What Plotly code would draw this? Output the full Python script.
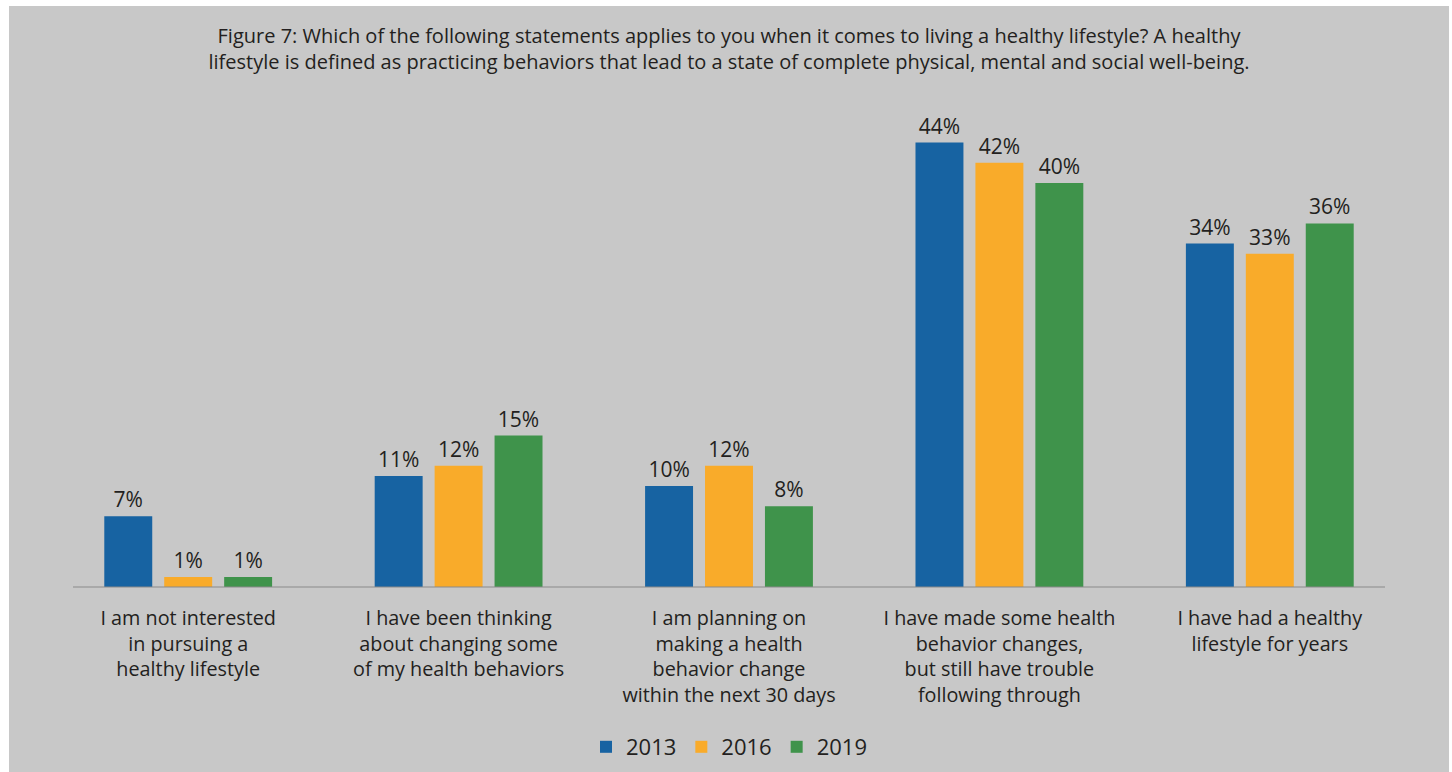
import plotly.graph_objects as go

# Survey responses (% of respondents) by year
categories = [
    "I am not interested<br>in pursuing a<br>healthy lifestyle",
    "I have been thinking<br>about changing some<br>of my health behaviors",
    "I am planning on<br>making a health<br>behavior change<br>within the next 30 days",
    "I have made some health<br>behavior changes,<br>but still have trouble<br>following through",
    "I have had a healthy<br>lifestyle for years",
]
years = ["2013", "2016", "2019"]
values_2013 = [7, 11, 10, 44, 34]
values_2016 = [1, 12, 12, 42, 33]
values_2019 = [1, 15, 8, 40, 36]

series = [values_2013, values_2016, values_2019]
colors = ["#1763a2", "#f9ab2a", "#3f934b"]

FONT = "Open Sans"
TEXT = "#231f20"
BG = "#c8c8c8"

W, H = 1452, 772
ML, MR, MT, MB = 53, 47, 100, 185
PW, PH = W - ML - MR, H - MT - MB


def px_x(p):
    return (p - ML) / PW


def px_y(p):
    return (H - MB - p) / PH


fig = go.Figure()
for name, vals, col in zip(years, series, colors):
    fig.add_trace(go.Bar(
        name=name,
        x=categories,
        y=vals,
        marker=dict(color=col, line=dict(width=0)),
        text=[f"{v}%" for v in vals],
        textposition="outside",
        constraintext="none",
        cliponaxis=False,
        textfont=dict(family=FONT, size=21, color=TEXT),
    ))

fig.update_layout(
    width=W,
    height=H,
    margin=dict(l=ML, r=MR, t=MT, b=MB, autoexpand=False),
    paper_bgcolor="white",
    plot_bgcolor=BG,
    barmode="group",
    bargap=0.335,
    bargroupgap=0.2,
    font=dict(family=FONT, color=TEXT),
    title=dict(
        text="Figure 7: Which of the following statements applies to you when it comes to living a healthy lifestyle? A healthy<br>"
             "lifestyle is defined as practicing behaviors that lead to a state of complete physical, mental and social well-being.",
        x=0.5, xref="paper", xanchor="center",
        y=1 - 43 / H, yref="container", yanchor="top",
        font=dict(family=FONT, size=20, color=TEXT),
    ),
    legend=dict(
        orientation="h",
        x=0.5, xanchor="center",
        y=(H - 747) / H, yref="container", yanchor="middle",
        font=dict(family=FONT, size=22, color=TEXT),
        bgcolor="rgba(0,0,0,0)",
        traceorder="normal",
    ),
    shapes=[
        # grey card behind the whole figure
        dict(type="rect", xref="paper", yref="paper", layer="below",
             x0=px_x(9), x1=px_x(1449), y0=px_y(772), y1=px_y(6),
             fillcolor=BG, line=dict(width=0)),
        # category baseline
        dict(type="line", xref="paper", yref="paper", layer="above",
             x0=px_x(73), x1=px_x(1385), y0=0, y1=0,
             line=dict(color="#8a8a8a", width=1.2)),
    ],
)

fig.update_xaxes(
    showgrid=False, showline=False, zeroline=False, ticks="",
    tickfont=dict(family=FONT, size=19.8, color=TEXT),
    ticklabelstandoff=17,
    automargin=False,
)
fig.update_yaxes(
    range=[0, PH / 10.1],
    showgrid=False, showline=False, zeroline=False,
    showticklabels=False, ticks="",
    automargin=False,
)

fig.write_html("out.html")
